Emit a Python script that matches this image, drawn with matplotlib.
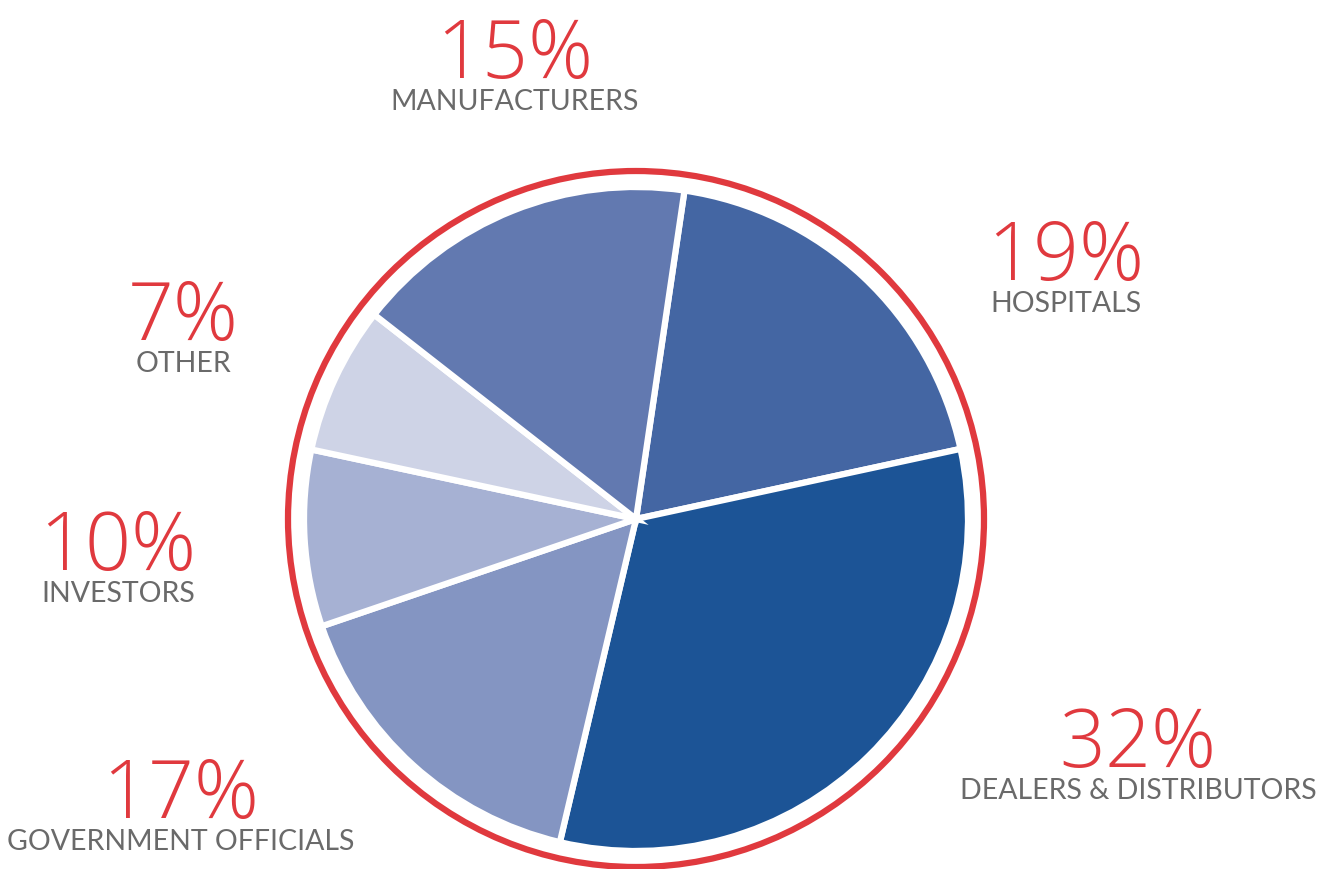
import matplotlib
matplotlib.use("Agg")
import matplotlib.pyplot as plt
from matplotlib.patches import Circle

categories = ["HOSPITALS", "DEALERS & DISTRIBUTORS", "GOVERNMENT OFFICIALS",
              "INVESTORS", "OTHER", "MANUFACTURERS"]
percent_labels = [19, 32, 17, 10, 7, 15]
# slice shares as drawn in the picture
slice_shares = [19.3, 32.1, 16.1, 8.6, 7.2, 16.8]
colors = ["#4466a3", "#1c5496", "#8495c2", "#a6b1d3", "#ced3e6", "#6279b0"]
# label anchor positions in pixels (x, y from top) for percent text
label_pos = [(1066, 280), (1138, 767), (181, 818), (118, 570), (183, 340), (515, 78)]

W, H = 1320, 870
fig = plt.figure(figsize=(W / 100, H / 100), dpi=100)
ax = fig.add_axes([0, 0, 1, 1])
ax.set_xlim(0, W)
ax.set_ylim(0, H)
ax.set_aspect("equal")
ax.axis("off")

cx, cy = 636, H - 520
ax.pie(slice_shares, colors=colors, startangle=81.6, counterclock=False,
       center=(cx, cy), radius=332,
       wedgeprops=dict(edgecolor="white", linewidth=4.5))
ax.add_patch(Circle((cx, cy), 348, fill=False, edgecolor="#e0393e", linewidth=4.5))
ax.set_xlim(0, W)
ax.set_ylim(0, H)

red = "#e0393e"
gray = "#6a6a6a"
for cat, v, (x, y) in zip(categories, percent_labels, label_pos):
    ax.text(x, H - y, f"{v}%", ha="center", va="baseline", fontsize=58,
            color=red, family="Open Sans", fontweight="light")
    ax.text(x, H - y - 32, cat, ha="center", va="baseline", fontsize=20.5,
            color=gray, family="Lato", fontweight="normal")

fig.savefig("out.png", dpi=100)
